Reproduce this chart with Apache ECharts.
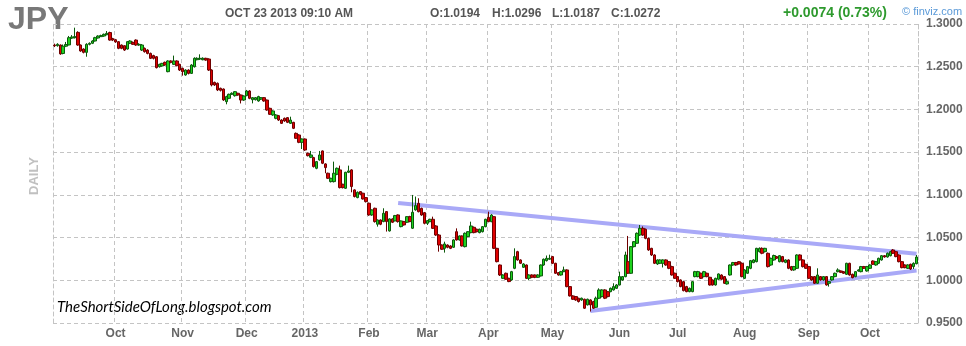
<!DOCTYPE html>
<html><head><meta charset="utf-8">
<script src="https://cdn.jsdelivr.net/npm/echarts@6/dist/echarts.min.js"></script>
<style>html,body{margin:0;padding:0;background:#fff}#c{width:966px;height:346px}</style>
</head><body><div id="c"></div>
<script>
// Trading days: weekdays from startDate, skipping holidays
const startDate = '2012-08-31';
const holidays = ['2012-12-25', '2013-01-01'];
const monthNames = ['Jan','Feb','Mar','Apr','May','Jun','Jul','Aug','Sep','Oct','Nov','Dec'];
const yTicks = [0.95, 1.30, 0.05]; // min, max, step

// [open, close, low, high]
const candles = [
// Sep 2012 (from Aug 31)
[1.2754,1.2746,1.2730,1.2770],[1.2746,1.2762,1.2735,1.2775],[1.2754,1.2650,1.2640,1.2760],[1.2655,1.2740,1.2645,1.2760],
[1.2740,1.2760,1.2730,1.2790],[1.2755,1.2840,1.2750,1.2860],[1.2835,1.2848,1.2825,1.2870],[1.2840,1.2852,1.2830,1.2957],
[1.2902,1.2754,1.2745,1.2915],[1.2754,1.2684,1.2675,1.2760],[1.2707,1.2668,1.2656,1.2715],[1.2668,1.2762,1.2617,1.2775],
[1.2762,1.2774,1.2750,1.2785],[1.2774,1.2801,1.2765,1.2810],[1.2801,1.2840,1.2795,1.2850],[1.2836,1.2859,1.2830,1.2868],
[1.2852,1.2864,1.2848,1.2875],[1.2859,1.2879,1.2850,1.2888],[1.2875,1.2890,1.2868,1.2918],[1.2900,1.2812,1.2805,1.2910],
[1.2830,1.2812,1.2800,1.2838],
// Oct 2012
[1.2816,1.2790,1.2780,1.2825],[1.2793,1.2715,1.2705,1.2800],[1.2754,1.2715,1.2705,1.2760],[1.2746,1.2695,1.2685,1.2750],
[1.2707,1.2793,1.2700,1.2800],[1.2774,1.2801,1.2765,1.2810],[1.2785,1.2762,1.2755,1.2795],[1.2812,1.2754,1.2745,1.2820],
[1.2754,1.2762,1.2745,1.2775],[1.2695,1.2754,1.2684,1.2765],[1.2715,1.2676,1.2665,1.2725],[1.2695,1.2656,1.2645,1.2705],
[1.2656,1.2598,1.2590,1.2665],[1.2630,1.2598,1.2585,1.2640],[1.2617,1.2489,1.2480,1.2625],[1.2500,1.2528,1.2490,1.2535],
[1.2508,1.2539,1.2500,1.2545],[1.2551,1.2520,1.2510,1.2560],[1.2442,1.2567,1.2435,1.2575],[1.2567,1.2551,1.2540,1.2575],
[1.2528,1.2567,1.2520,1.2630],[1.2567,1.2512,1.2505,1.2575],[1.2528,1.2461,1.2450,1.2535],
// Nov 2012
[1.2481,1.2442,1.2395,1.2490],[1.2403,1.2461,1.2395,1.2470],[1.2461,1.2422,1.2410,1.2470],[1.2422,1.2520,1.2415,1.2530],
[1.2500,1.2598,1.2490,1.2610],[1.2582,1.2598,1.2575,1.2610],[1.2590,1.2598,1.2580,1.2645],[1.2582,1.2598,1.2575,1.2610],
[1.2598,1.2578,1.2570,1.2605],[1.2590,1.2461,1.2450,1.2598],[1.2461,1.2286,1.2270,1.2470],[1.2317,1.2286,1.2275,1.2325],
[1.2306,1.2228,1.2215,1.2315],[1.2247,1.2224,1.2210,1.2255],[1.2239,1.2111,1.2100,1.2245],[1.2091,1.2150,1.2060,1.2160],
[1.2130,1.2177,1.2120,1.2185],[1.2177,1.2189,1.2170,1.2200],[1.2161,1.2208,1.2150,1.2215],[1.2189,1.2169,1.2160,1.2195],
[1.2169,1.2110,1.2070,1.2175],[1.2110,1.2157,1.2100,1.2165],
// Dec 2012
[1.2161,1.2216,1.2155,1.2228],[1.2216,1.2130,1.2120,1.2225],[1.2114,1.2138,1.2071,1.2145],[1.2114,1.2138,1.2105,1.2145],
[1.2099,1.2150,1.2090,1.2160],[1.2120,1.2138,1.2110,1.2145],[1.2138,1.2099,1.2090,1.2145],[1.2110,1.1993,1.1985,1.2115],
[1.2013,1.1943,1.1935,1.2020],[1.1935,1.1982,1.1925,1.1990],[1.1896,1.1935,1.1885,1.1945],[1.1927,1.1876,1.1865,1.1935],
[1.1876,1.1837,1.1830,1.1885],[1.1896,1.1865,1.1855,1.1905],[1.1904,1.1849,1.1840,1.1910],[1.1837,1.1876,1.1830,1.1915],
[1.1849,1.1779,1.1770,1.1855],[1.1720,1.1662,1.1655,1.1730],[1.1701,1.1615,1.1605,1.1710],[1.1615,1.1654,1.1537,1.1660],
// Jan 2013
[1.1654,1.1525,1.1515,1.1660],[1.1486,1.1459,1.1450,1.1495],[1.1440,1.1467,1.1430,1.1514],[1.1436,1.1331,1.1320,1.1445],
[1.1311,1.1389,1.1300,1.1395],[1.1409,1.1467,1.1400,1.1514],[1.1514,1.1370,1.1360,1.1520],[1.1362,1.1319,1.1253,1.1370],
[1.1253,1.1194,1.1185,1.1260],[1.1155,1.1194,1.1145,1.1200],[1.1155,1.1253,1.1145,1.1389],[1.1241,1.1311,1.1230,1.1320],
[1.1292,1.1085,1.1075,1.1342],[1.1124,1.1085,1.1075,1.1130],[1.1077,1.1264,1.1070,1.1270],[1.1264,1.1280,1.1255,1.1342],
[1.1292,1.1097,1.1030,1.1300],[1.1058,1.0980,1.0970,1.1065],[1.0968,1.1030,1.0960,1.1040],[1.1038,1.1007,1.0995,1.1045],
[1.1019,1.0952,1.0945,1.1025],[1.0968,1.0921,1.0910,1.0975],
// Feb 2013
[1.0902,1.0765,1.0755,1.0910],[1.0765,1.0824,1.0755,1.0830],[1.0843,1.0687,1.0675,1.0850],[1.0656,1.0706,1.0628,1.0712],
[1.0706,1.0656,1.0645,1.0712],[1.0687,1.0784,1.0680,1.0843],[1.0804,1.0687,1.0570,1.0810],[1.0578,1.0718,1.0570,1.0725],
[1.0718,1.0679,1.0670,1.0725],[1.0695,1.0757,1.0690,1.0765],[1.0765,1.0687,1.0675,1.0772],[1.0628,1.0695,1.0620,1.0700],
[1.0687,1.0648,1.0640,1.0695],[1.0679,1.0745,1.0670,1.0750],[1.0745,1.0687,1.0680,1.0755],[1.0609,1.0796,1.0600,1.0999],
[1.0824,1.0874,1.0815,1.0980],[1.0901,1.0803,1.0795,1.0960],[1.0842,1.0764,1.0755,1.0850],[1.0792,1.0667,1.0655,1.0800],
// Mar 2013
[1.0667,1.0698,1.0647,1.0705],[1.0686,1.0714,1.0680,1.0720],[1.0714,1.0608,1.0600,1.0745],[1.0636,1.0530,1.0520,1.0645],
[1.0530,1.0413,1.0335,1.0540],[1.0413,1.0363,1.0355,1.0420],[1.0374,1.0425,1.0324,1.0452],[1.0413,1.0386,1.0375,1.0420],
[1.0402,1.0374,1.0365,1.0410],[1.0386,1.0472,1.0380,1.0480],[1.0569,1.0472,1.0465,1.0608],[1.0472,1.0519,1.0465,1.0525],
[1.0519,1.0402,1.0395,1.0525],[1.0394,1.0550,1.0385,1.0560],[1.0511,1.0569,1.0505,1.0575],[1.0558,1.0636,1.0550,1.0686],
[1.0620,1.0558,1.0550,1.0630],[1.0597,1.0569,1.0560,1.0605],[1.0558,1.0597,1.0550,1.0605],[1.0569,1.0628,1.0560,1.0635],
[1.0628,1.0714,1.0620,1.0720],
// Apr 2013
[1.0737,1.0686,1.0680,1.0803],[1.0686,1.0764,1.0680,1.0775],[1.0745,1.0374,1.0365,1.0750],[1.0374,1.0218,1.0210,1.0380],
[1.0179,1.0062,1.0050,1.0185],[1.0023,1.0062,1.0015,1.0070],[1.0082,1.0012,1.0005,1.0090],[1.0023,0.9985,0.9978,1.0030],
[1.0004,1.0101,0.9995,1.0110],[1.0140,1.0277,1.0130,1.0374],[1.0335,1.0238,1.0230,1.0345],[1.0238,1.0199,1.0190,1.0245],
[1.0152,1.0191,1.0145,1.0200],[1.0179,1.0023,1.0015,1.0185],[1.0023,1.0062,1.0000,1.0070],[1.0062,1.0035,1.0025,1.0070],
[1.0062,1.0035,1.0025,1.0068],[1.0035,1.0062,1.0028,1.0070],[1.0051,1.0179,1.0045,1.0185],[1.0179,1.0246,1.0170,1.0255],
[1.0230,1.0257,1.0220,1.0290],[1.0246,1.0257,1.0240,1.0300],
// May 2013
[1.0277,1.0199,1.0190,1.0285],[1.0199,1.0082,1.0075,1.0205],[1.0090,1.0062,1.0055,1.0095],[1.0062,1.0101,1.0055,1.0110],
[1.0101,1.0121,1.0095,1.0160],[1.0121,0.9926,0.9918,1.0128],[0.9926,0.9817,0.9810,0.9932],[0.9817,0.9778,0.9770,0.9825],
[0.9809,0.9770,0.9760,0.9815],[0.9790,0.9751,0.9740,0.9795],[0.9770,0.9790,0.9760,0.9797],[0.9778,0.9673,0.9665,0.9785],
[0.9712,0.9778,0.9705,0.9785],[0.9770,0.9712,0.9634,0.9778],[0.9751,0.9673,0.9665,0.9760],[0.9684,0.9790,0.9675,0.9809],
[0.9790,0.9887,0.9780,0.9906],[0.9809,0.9887,0.9800,0.9895],[0.9887,0.9790,0.9780,0.9895],[0.9867,0.9809,0.9800,0.9875],
[0.9867,0.9906,0.9860,0.9915],[0.9887,0.9926,0.9880,0.9965],[0.9906,0.9945,0.9900,0.9955],
// Jun 2013
[0.9945,1.0043,0.9940,1.0101],[1.0004,1.0043,0.9995,1.0050],[1.0043,1.0296,1.0035,1.0335],[1.0218,1.0082,1.0075,1.0519],
[1.0082,1.0394,1.0075,1.0400],[1.0394,1.0452,1.0385,1.0460],[1.0433,1.0550,1.0425,1.0560],[1.0530,1.0608,1.0520,1.0647],
[1.0608,1.0530,1.0520,1.0630],[1.0597,1.0491,1.0480,1.0605],[1.0491,1.0355,1.0345,1.0500],[1.0374,1.0296,1.0285,1.0380],
[1.0296,1.0199,1.0190,1.0305],[1.0191,1.0238,1.0180,1.0245],[1.0199,1.0238,1.0190,1.0245],[1.0199,1.0238,1.0150,1.0245],
[1.0238,1.0179,1.0170,1.0245],[1.0218,1.0140,1.0130,1.0225],[1.0160,1.0062,1.0055,1.0170],[1.0082,1.0023,1.0015,1.0090],
// Jul 2013
[1.0043,0.9984,0.9975,1.0050],[1.0004,0.9926,0.9918,1.0010],[0.9984,0.9879,0.9870,0.9990],[0.9926,0.9867,0.9860,0.9935],
[0.9867,0.9906,0.9860,0.9915],[0.9867,0.9984,0.9860,0.9990],[1.0043,1.0101,1.0035,1.0110],[1.0043,1.0101,1.0035,1.0110],
[1.0082,1.0023,1.0015,1.0090],[1.0043,1.0101,1.0035,1.0110],[1.0082,1.0043,1.0035,1.0090],[1.0035,0.9945,0.9938,1.0040],
[1.0004,0.9945,0.9938,1.0010],[0.9945,1.0023,0.9938,1.0030],[1.0012,1.0074,1.0005,1.0080],[1.0062,1.0012,1.0005,1.0070],
[1.0043,0.9965,0.9957,1.0050],[0.9957,0.9984,0.9950,1.0020],[1.0062,1.0179,1.0055,1.0185],[1.0179,1.0207,1.0170,1.0215],
[1.0207,1.0179,1.0170,1.0215],[1.0218,1.0191,1.0185,1.0225],[1.0199,1.0043,1.0035,1.0210],
// Aug 2013
[1.0023,1.0121,1.0015,1.0130],[1.0082,1.0160,1.0075,1.0168],[1.0140,1.0230,1.0130,1.0238],[1.0207,1.0238,1.0200,1.0246],
[1.0218,1.0374,1.0210,1.0380],[1.0335,1.0374,1.0325,1.0385],[1.0374,1.0316,1.0305,1.0385],[1.0335,1.0374,1.0325,1.0380],
[1.0316,1.0160,1.0150,1.0325],[1.0179,1.0257,1.0170,1.0265],[1.0238,1.0290,1.0230,1.0300],[1.0277,1.0257,1.0250,1.0285],
[1.0218,1.0288,1.0210,1.0295],[1.0277,1.0218,1.0210,1.0285],[1.0210,1.0238,1.0200,1.0245],[1.0238,1.0140,1.0130,1.0245],
[1.0160,1.0121,1.0112,1.0168],[1.0121,1.0160,1.0112,1.0168],[1.0140,1.0296,1.0132,1.0304],[1.0296,1.0238,1.0230,1.0304],
[1.0238,1.0160,1.0150,1.0245],[1.0187,1.0140,1.0132,1.0195],
// Sep 2013
[1.0160,1.0023,1.0015,1.0168],[1.0043,1.0004,0.9995,1.0050],[1.0043,0.9965,0.9957,1.0050],[0.9965,1.0062,0.9957,1.0140],
[1.0043,1.0004,0.9995,1.0050],[1.0004,1.0043,0.9995,1.0050],[1.0043,0.9945,0.9938,1.0050],[0.9965,0.9984,0.9926,0.9990],
[1.0004,1.0043,0.9995,1.0050],[1.0043,1.0082,1.0035,1.0090],[1.0101,1.0121,1.0093,1.0140],[1.0109,1.0093,1.0085,1.0115],
[1.0101,1.0082,1.0075,1.0108],[1.0070,1.0199,1.0062,1.0205],[1.0199,1.0062,1.0055,1.0205],[1.0070,1.0031,1.0023,1.0078],
[1.0043,1.0101,1.0035,1.0108],[1.0109,1.0121,1.0101,1.0128],[1.0101,1.0160,1.0093,1.0168],[1.0160,1.0140,1.0132,1.0168],
[1.0109,1.0160,1.0101,1.0168],
// Oct 2013
[1.0140,1.0179,1.0132,1.0187],[1.0226,1.0187,1.0179,1.0233],[1.0179,1.0218,1.0171,1.0226],[1.0199,1.0257,1.0190,1.0265],
[1.0238,1.0288,1.0230,1.0296],[1.0288,1.0273,1.0265,1.0296],[1.0273,1.0316,1.0265,1.0325],[1.0288,1.0335,1.0280,1.0345],
[1.0355,1.0316,1.0308,1.0366],[1.0335,1.0277,1.0270,1.0345],[1.0296,1.0218,1.0210,1.0304],[1.0218,1.0148,1.0140,1.0226],
[1.0179,1.0148,1.0140,1.0187],[1.0140,1.0179,1.0132,1.0187],[1.0187,1.0132,1.0121,1.0195],[1.0160,1.0198,1.0132,1.0210],
[1.0194,1.0272,1.0187,1.0296]
];

// Hand-drawn trend lines: [date, price] end points
const trendUpper = [['2013-02-15', 1.0905], ['2013-10-23', 1.0310]];
const trendLower = [['2013-05-20', 0.9640], ['2013-10-23', 1.0115]];

const headerDate = 'OCT 23 2013 09:10 AM';
const headerChange = '+0.0074 (0.73%)';

const dates = [];
(function () {
  const d = new Date(startDate + 'T00:00:00Z');
  while (dates.length < candles.length) {
    const dow = d.getUTCDay();
    const s = d.toISOString().slice(0, 10);
    if (dow !== 0 && dow !== 6 && holidays.indexOf(s) < 0) dates.push(s);
    d.setUTCDate(d.getUTCDate() + 1);
  }
})();

function isMonthStart(i) {
  return i > 5 && dates[i].slice(5, 7) !== dates[i - 1].slice(5, 7);
}

const last = candles[candles.length - 1];
const gridColor = '#c4c4c4';
const dash = [4, 3];
const axisFont = { color: '#666', fontWeight: 'bold', fontSize: 12, fontFamily: 'Liberation Sans, Arial, sans-serif' };
const trendStyle = { color: '#a9a9f7', width: 4, type: 'solid', opacity: 1 };

const chart = echarts.init(document.getElementById('c'), null, { renderer: 'canvas' });
chart.setOption({
  animation: false,
  backgroundColor: '#fff',
  grid: { left: 53, right: 48, top: 24, bottom: 23, containLabel: false },
  xAxis: {
    type: 'category', data: dates, boundaryGap: true,
    axisLine: { show: false }, axisTick: { show: false },
    axisLabel: Object.assign({
      interval: (i) => isMonthStart(i), margin: 5,
      formatter: (v) => { const m = +v.slice(5, 7); return m === 1 ? v.slice(0, 4) : monthNames[m - 1]; }
    }, axisFont),
    splitLine: { show: true, interval: (i) => isMonthStart(i), lineStyle: { color: gridColor, type: dash, width: 1 } }
  },
  yAxis: [{
    type: 'value', position: 'right', min: yTicks[0], max: yTicks[1], interval: yTicks[2], scale: true,
    axisLine: { show: true, lineStyle: { color: gridColor, type: dash } }, axisTick: { show: false },
    axisLabel: Object.assign({ formatter: (v) => v.toFixed(4), margin: 8 }, axisFont),
    splitLine: { show: true, lineStyle: { color: gridColor, type: dash } }
  }, {
    type: 'value', position: 'left', min: yTicks[0], max: yTicks[1], interval: yTicks[2],
    axisLine: { show: true, lineStyle: { color: gridColor, type: dash } }, axisTick: { show: false },
    axisLabel: { show: false }, splitLine: { show: false }
  }],
  series: [{
    type: 'candlestick', data: candles, barWidth: 3,
    itemStyle: { color: '#1ed21e', color0: '#e00000', borderColor: '#0b5a0b', borderColor0: '#6e0000', borderWidth: 1 },
    markLine: {
      silent: true, symbol: ['none', 'none'], animation: false, z: 1,
      data: [
        [{ coord: trendUpper[0], lineStyle: trendStyle }, { coord: trendUpper[1] }],
        [{ coord: trendLower[0], lineStyle: trendStyle }, { coord: trendLower[1] }],
        {
          yAxis: last[1], lineStyle: { opacity: 0, width: 0 },
          label: { show: true, position: 'end', distance: 8, formatter: last[1].toFixed(4),
            backgroundColor: '#ffff00', color: '#000', fontWeight: 'bold', fontSize: 12,
            fontFamily: 'Liberation Sans, Arial, sans-serif', padding: [2, 2, 1, 2] }
        }
      ],
      lineStyle: { type: 'solid' },
      label: { show: false }
    }
  }],
  graphic: [
    { type: 'text', left: 8, top: 4, style: { text: 'JPY', font: 'bold 32px "Liberation Sans", Arial', fill: '#787878' } },
    { type: 'text', left: 225, top: 8, style: { text: headerDate, font: 'bold 12px "Liberation Sans", Arial', fill: '#555' } },
    { type: 'text', left: 430, top: 8, style: { text: 'O:' + last[0].toFixed(4), font: 'bold 12px "Liberation Sans", Arial', fill: '#555' } },
    { type: 'text', left: 492, top: 8, style: { text: 'H:' + last[3].toFixed(4), font: 'bold 12px "Liberation Sans", Arial', fill: '#555' } },
    { type: 'text', left: 552, top: 8, style: { text: 'L:' + last[2].toFixed(4), font: 'bold 12px "Liberation Sans", Arial', fill: '#555' } },
    { type: 'text', left: 611, top: 8, style: { text: 'C:' + last[1].toFixed(4), font: 'bold 12px "Liberation Sans", Arial', fill: '#555' } },
    { type: 'text', left: 783, top: 6, style: { text: headerChange, font: 'bold 14px "Liberation Sans", Arial', fill: '#2e9a2e' } },
    { type: 'text', left: 902, top: 6, style: { text: '© finviz.com', font: '11px "Liberation Sans", Arial', fill: '#5b9ad8' } },
    { type: 'text', x: 34, y: 176, rotation: Math.PI / 2, style: { text: 'DAILY', font: 'bold 13px "Liberation Sans", Arial', fill: '#c0c0c0', textAlign: 'center', textVerticalAlign: 'middle' } },
    { type: 'text', left: 57, top: 300, style: { text: 'TheShortSideOfLong.blogspot.com', font: 'italic 15px Lato, "Open Sans", sans-serif', fill: '#000' } }
  ]
});
</script>
</body></html>
